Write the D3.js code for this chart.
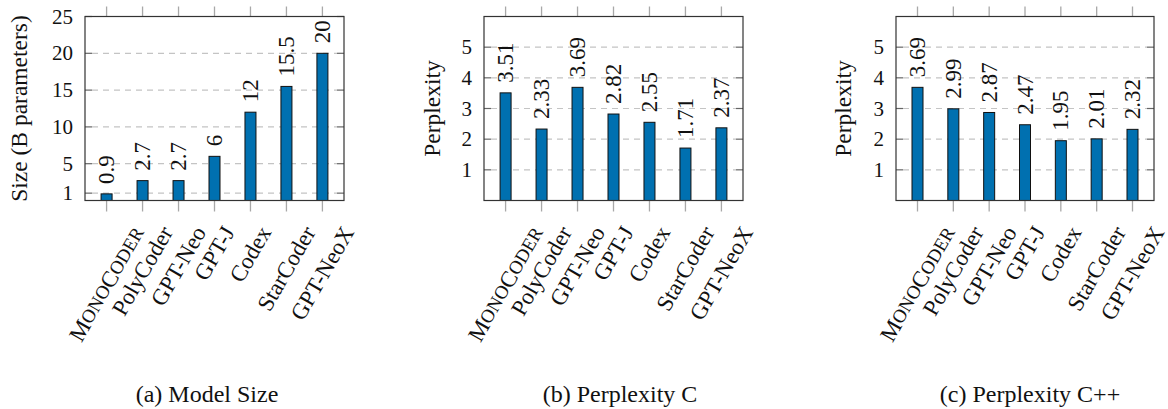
<!DOCTYPE html>
<html>
<head>
<meta charset="utf-8">
<script src="https://cdn.jsdelivr.net/npm/d3@7"></script>
<style>
  body { margin: 0; background: #fff; }
  svg { display: block; }
</style>
</head>
<body>
<div id="chart"></div>
<script>
const models = ['MonoCoder', 'PolyCoder', 'GPT-Neo', 'GPT-J', 'Codex', 'StarCoder', 'GPT-NeoX'];
const smallCapsModels = ['MonoCoder'];
const modelSize = [0.9, 2.7, 2.7, 6, 12, 15.5, 20];
const perplexityC = [3.51, 2.33, 3.69, 2.82, 2.55, 1.71, 2.37];
const perplexityCpp = [3.69, 2.99, 2.87, 2.47, 1.95, 2.01, 2.32];
const sizeTicks = [1, 5, 10, 15, 20, 25];
const perplexityTicks = [1, 2, 3, 4, 5];

const width = 1168;
const height = 409;
const barBlue = '#0070b0';
const frameGrey = '#333';
const tickGrey = '#a8a8a8';
const gridGrey = '#c4c4c4';
const serif = '"Liberation Serif", "Times New Roman", serif';

const panels = [
    {values: modelSize, ticks: sizeTicks, max: 25, yLabel: 'Size (B parameters)',
     caption: '(a) Model Size', left: 85, right: 344, labelX: 19, captionX: 207},
    {values: perplexityC, ticks: perplexityTicks, max: 6, yLabel: 'Perplexity',
     caption: '(b) Perplexity C', left: 484, right: 743, labelX: 432, captionX: 620},
    {values: perplexityCpp, ticks: perplexityTicks, max: 6, yLabel: 'Perplexity',
     caption: '(c) Perplexity C++', left: 896, right: 1154, labelX: 843, captionX: 1030}
];

const plotTop = 16.5;
const plotBottom = 200.5;

const svg = d3.select('#chart')
    .append('svg')
    .attr('width', width)
    .attr('height', height);

panels.forEach(drawPanel);


// split a name into runs: capitals full size, lower case as small capitals
function capsRuns(name) {
    const runs = [];
    for (const ch of name) {
        const big = ch === ch.toUpperCase();
        const last = runs[runs.length - 1];
        if (last && last.big === big) last.text += ch.toUpperCase();
        else runs.push({text: ch.toUpperCase(), big: big});
    }
    return runs;
}

function drawPanel(p) {
    const g = svg.append('g');

    const x = d3.scalePoint()
        .domain(models)
        .range([p.left, p.right])
        .padding(0.6);

    const y = d3.scaleLinear()
        .domain([0, p.max])
        .range([plotBottom, plotTop]);

    // grid lines (dashed)
    g.selectAll('.grid')
        .data(p.ticks.filter(t => t < p.max))
        .enter()
        .append('line')
        .attr('x1', p.left + 7)
        .attr('x2', p.right - 7)
        .attr('y1', d => y(d))
        .attr('y2', d => y(d))
        .attr('stroke', gridGrey)
        .attr('stroke-width', 1.2)
        .attr('stroke-dasharray', '6,5');

    // short y ticks inside both sides
    p.ticks.forEach(t => {
        [[p.left, p.left + 7], [p.right - 7, p.right]].forEach(([a, b]) => {
            g.append('line')
                .attr('x1', a).attr('x2', b)
                .attr('y1', y(t)).attr('y2', y(t))
                .attr('stroke', '#666')
                .attr('stroke-width', 1.2);
        });
    });

    // x ticks outside, top and bottom
    g.selectAll('.xtick-top')
        .data(models)
        .enter()
        .append('line')
        .attr('x1', d => x(d)).attr('x2', d => x(d))
        .attr('y1', plotTop - 10).attr('y2', plotTop)
        .attr('stroke', tickGrey)
        .attr('stroke-width', 1.3);

    g.selectAll('.xtick-bottom')
        .data(models)
        .enter()
        .append('line')
        .attr('x1', d => x(d)).attr('x2', d => x(d))
        .attr('y1', plotBottom).attr('y2', plotBottom + 11)
        .attr('stroke', tickGrey)
        .attr('stroke-width', 1.3);

    // bars
    const rows = models.map((m, i) => ({model: m, value: p.values[i]}));

    g.selectAll('.bar')
        .data(rows)
        .enter()
        .append('rect')
        .attr('x', d => x(d.model) - 5.5)
        .attr('width', 11)
        .attr('y', d => y(d.value))
        .attr('height', d => y(0) - y(d.value))
        .attr('fill', barBlue)
        .attr('stroke', '#111')
        .attr('stroke-width', 1);

    // value labels
    g.selectAll('.val')
        .data(rows)
        .enter()
        .append('text')
        .attr('transform', d => `translate(${x(d.model)}, ${y(d.value) - 10}) rotate(-90)`)
        .attr('text-anchor', 'start')
        .attr('dominant-baseline', 'central')
        .attr('font-family', serif)
        .attr('font-size', 23)
        .attr('fill', '#111')
        .text(d => String(d.value));

    // frame
    g.append('rect')
        .attr('x', p.left)
        .attr('y', plotTop)
        .attr('width', p.right - p.left)
        .attr('height', plotBottom - plotTop)
        .attr('fill', 'none')
        .attr('stroke', frameGrey)
        .attr('stroke-width', 1.2);

    // y tick labels
    g.selectAll('.ylab')
        .data(p.ticks)
        .enter()
        .append('text')
        .attr('x', p.left - 12)
        .attr('y', d => y(d))
        .attr('text-anchor', 'end')
        .attr('dominant-baseline', 'central')
        .attr('font-family', serif)
        .attr('font-size', 21)
        .attr('fill', '#111')
        .text(d => d);

    // y axis title
    g.append('text')
        .attr('transform', `translate(${p.labelX}, ${(plotTop + plotBottom) / 2}) rotate(-90)`)
        .attr('text-anchor', 'middle')
        .attr('dominant-baseline', 'central')
        .attr('font-family', serif)
        .attr('font-size', 23.5)
        .attr('fill', '#111')
        .text(p.yLabel);

    // rotated x labels, centred on the tick, top of box aligned
    const fs = 23;
    const labels = g.selectAll('.xlab')
        .data(models)
        .enter()
        .append('text')
        .attr('text-anchor', 'middle')
        .attr('dominant-baseline', 'central')
        .attr('font-family', serif)
        .attr('font-size', fs)
        .attr('fill', '#111');

    labels.each(function(d) {
        const t = d3.select(this);
        if (smallCapsModels.includes(d)) {
            capsRuns(d).forEach(r => {
                t.append('tspan')
                    .attr('font-size', r.big ? fs : fs * 0.82)
                    .text(r.text);
            });
        } else {
            t.text(d);
        }
    });

    labels.attr('transform', function(d) {
        const len = this.getComputedTextLength();
        const ext = len * Math.sin(Math.PI / 3) + fs * 0.75 * Math.cos(Math.PI / 3);
        return `translate(${x(d)}, ${224 + ext / 2}) rotate(-60)`;
    });

    // caption
    g.append('text')
        .attr('x', p.captionX)
        .attr('y', 402)
        .attr('text-anchor', 'middle')
        .attr('font-family', serif)
        .attr('font-size', 24)
        .attr('fill', '#111')
        .text(p.caption);
}
</script>
</body>
</html>
